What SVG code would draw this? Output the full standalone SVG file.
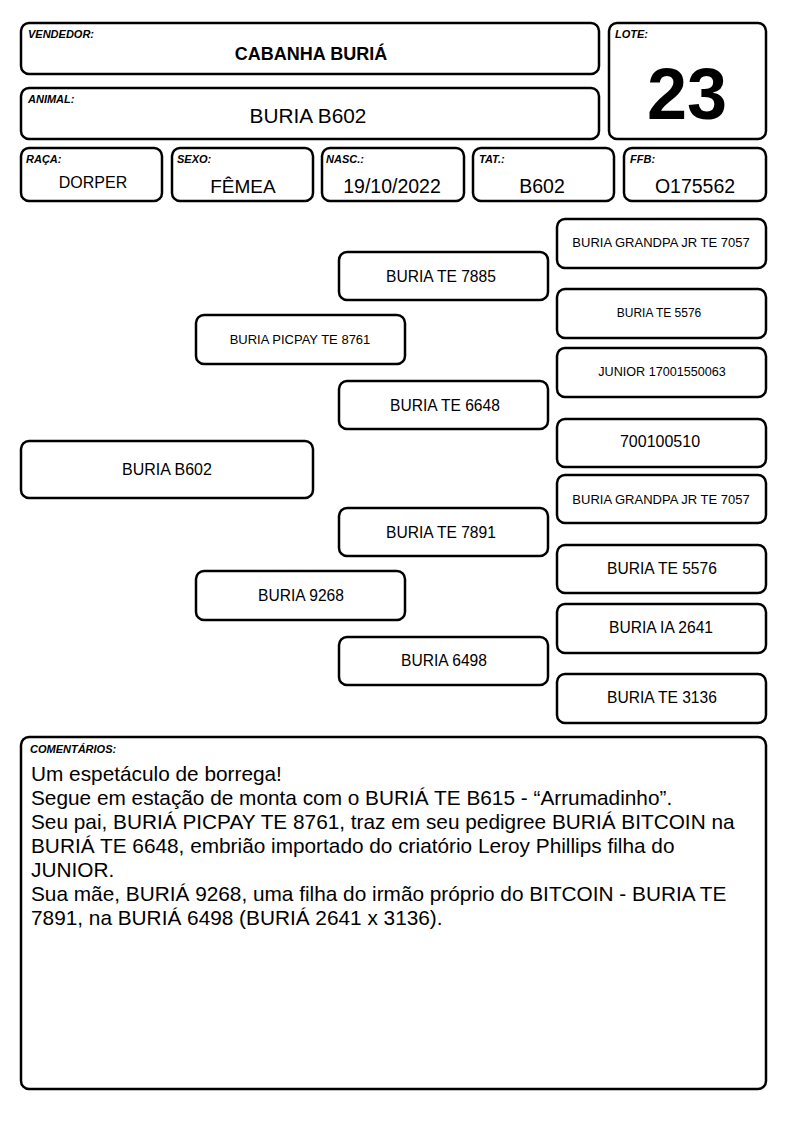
<svg xmlns="http://www.w3.org/2000/svg" width="794" height="1123" viewBox="0 0 794 1123">
<style>
.b{fill:#fff;stroke:#000;stroke-width:2.5}
.lbl{font-family:"Liberation Sans",Arial,sans-serif;font-size:11px;font-weight:bold;font-style:italic;fill:#000}
.t{font-family:"Liberation Sans",Arial,sans-serif;fill:#000;text-anchor:middle}
.c{font-family:"Liberation Sans",Arial,sans-serif;font-size:20.8px;fill:#000}
</style>
<rect width="794" height="1123" fill="#fff"/>
<g id="vendedor"><rect class="b" x="21" y="23" width="578" height="51" rx="8"/><text class="lbl" x="28" y="38">VENDEDOR:</text><text class="t" x="311" y="60" font-size="18" font-weight="bold">CABANHA BURIÁ</text></g>
<g id="animal"><rect class="b" x="21" y="88" width="578" height="51" rx="8"/><text class="lbl" x="28" y="103">ANIMAL:</text><text class="t" x="308" y="123" font-size="20.8">BURIA B602</text></g>
<g id="lote"><rect class="b" x="609" y="23" width="157" height="116" rx="8"/><text class="lbl" x="615" y="38">LOTE:</text><text class="t" x="687" y="119" font-size="72" font-weight="bold">23</text></g>
<g id="raca"><rect class="b" x="21" y="148" width="141" height="53" rx="8"/><text class="lbl" x="26" y="163">RAÇA:</text><text class="t" x="93" y="188" font-size="16">DORPER</text></g>
<g id="sexo"><rect class="b" x="172" y="148" width="141" height="53" rx="8"/><text class="lbl" x="177" y="163">SEXO:</text><text class="t" x="243" y="193" font-size="19">FÊMEA</text></g>
<g id="nasc"><rect class="b" x="322" y="148" width="142" height="53" rx="8"/><text class="lbl" x="326" y="163">NASC.:</text><text class="t" x="392" y="193" font-size="19.5">19/10/2022</text></g>
<g id="tat"><rect class="b" x="473" y="148" width="141" height="53" rx="8"/><text class="lbl" x="479" y="163">TAT.:</text><text class="t" x="542" y="193" font-size="19.5">B602</text></g>
<g id="ffb"><rect class="b" x="624" y="148" width="142" height="53" rx="8"/><text class="lbl" x="630" y="163">FFB:</text><text class="t" x="695" y="193" font-size="19.5">O175562</text></g>
<g id="connectors"></g>
<g id="n-b602"><rect class="b" x="21" y="441" width="292" height="57" rx="8"/><text class="t" x="167" y="475" font-size="16">BURIA B602</text></g>
<g id="n-picpay"><rect class="b" x="196" y="315" width="209" height="49" rx="8"/><text class="t" x="300" y="344" font-size="13">BURIA PICPAY TE 8761</text></g>
<g id="n-9268"><rect class="b" x="196" y="571" width="209" height="49" rx="8"/><text class="t" x="301" y="601" font-size="15.6">BURIA 9268</text></g>
<g id="n-7885"><rect class="b" x="339" y="252" width="209" height="48" rx="8"/><text class="t" x="441" y="282" font-size="15.6">BURIA TE 7885</text></g>
<g id="n-6648"><rect class="b" x="339" y="381" width="209" height="48" rx="8"/><text class="t" x="445" y="411" font-size="15.6">BURIA TE 6648</text></g>
<g id="n-7891"><rect class="b" x="339" y="508" width="209" height="48" rx="8"/><text class="t" x="441" y="538" font-size="15.6">BURIA TE 7891</text></g>
<g id="n-6498"><rect class="b" x="339" y="637" width="209" height="48" rx="8"/><text class="t" x="444" y="666" font-size="15.6">BURIA 6498</text></g>
<g id="n-gp1"><rect class="b" x="557" y="219" width="209" height="49" rx="8"/><text class="t" x="661" y="247" font-size="13">BURIA GRANDPA JR TE 7057</text></g>
<g id="n-5576a"><rect class="b" x="557" y="289" width="209" height="49" rx="8"/><text class="t" x="659" y="317" font-size="12">BURIA TE 5576</text></g>
<g id="n-junior"><rect class="b" x="557" y="348" width="209" height="49" rx="8"/><text class="t" x="662" y="376" font-size="12.6">JUNIOR 17001550063</text></g>
<g id="n-7001"><rect class="b" x="557" y="419" width="209" height="48" rx="8"/><text class="t" x="660" y="447" font-size="16">700100510</text></g>
<g id="n-gp2"><rect class="b" x="557" y="475" width="209" height="48" rx="8"/><text class="t" x="661" y="504" font-size="13">BURIA GRANDPA JR TE 7057</text></g>
<g id="n-5576b"><rect class="b" x="557" y="545" width="209" height="48" rx="8"/><text class="t" x="662" y="574" font-size="15.6">BURIA TE 5576</text></g>
<g id="n-2641"><rect class="b" x="557" y="604" width="209" height="49" rx="8"/><text class="t" x="661" y="633" font-size="15.6">BURIA IA 2641</text></g>
<g id="n-3136"><rect class="b" x="557" y="674" width="209" height="49" rx="8"/><text class="t" x="662" y="703" font-size="15.6">BURIA TE 3136</text></g>
<g id="comentarios"><rect class="b" x="21" y="737" width="745" height="352" rx="8"/><text class="lbl" x="30" y="753" font-size="11.5">COMENTÁRIOS:</text>
<text class="c" x="31" y="781">Um espetáculo de borrega!</text>
<text class="c" x="31" y="805">Segue em estação de monta com o BURIÁ TE B615 - “Arrumadinho”.</text>
<text class="c" x="31" y="829">Seu pai, BURIÁ PICPAY TE 8761, traz em seu pedigree BURIÁ BITCOIN na</text>
<text class="c" x="31" y="853">BURIÁ TE 6648, embrião importado do criatório Leroy Phillips filha do</text>
<text class="c" x="31" y="877">JUNIOR.</text>
<text class="c" x="31" y="901">Sua mãe, BURIÁ 9268, uma filha do irmão próprio do BITCOIN - BURIA TE</text>
<text class="c" x="31" y="925">7891, na BURIÁ 6498 (BURIÁ 2641 x 3136).</text>
</g>
</svg>
